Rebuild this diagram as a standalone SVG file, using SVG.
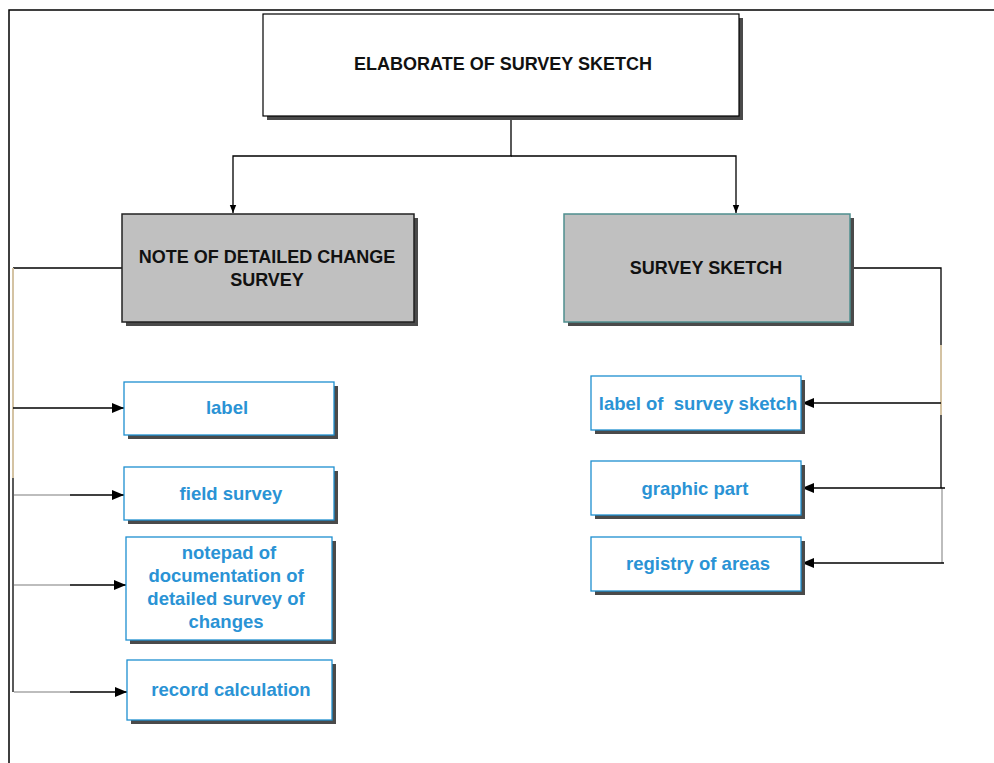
<svg xmlns="http://www.w3.org/2000/svg" width="994" height="763" viewBox="0 0 994 763">
<style>
.sh{fill:#4a4a4a}
.top{fill:#fff;stroke:#000;stroke-width:1.2}
.gray{fill:#c0c0c0;stroke:#222;stroke-width:1.5}
.grayt{fill:#c0c0c0;stroke:#4f8f8f;stroke-width:1.5}
.leaf{fill:#fff;stroke:#1e8fd0;stroke-width:1.3}
.tb{font-family:"Liberation Sans",Arial,sans-serif;font-weight:bold;font-size:18px;fill:#111;text-anchor:middle}
.tl{font-family:"Liberation Sans",Arial,sans-serif;font-weight:bold;font-size:18.5px;fill:#2a93d5;text-anchor:middle;white-space:pre}
.c{fill:none;stroke:#000;stroke-width:1.3}
.cg{fill:none;stroke:#bdbdbd;stroke-width:2}
.cb{fill:none;stroke:#d4c3a3;stroke-width:2}
</style>
<defs>
<marker id="ah" viewBox="0 0 12 10" refX="12" refY="5" markerWidth="12" markerHeight="10" markerUnits="userSpaceOnUse" orient="auto">
<path d="M0,0 L12,5 L0,10 z" fill="#000"/>
</marker>
<marker id="as" viewBox="0 0 10 10" refX="10" refY="5" markerWidth="8" markerHeight="8" markerUnits="userSpaceOnUse" orient="auto">
<path d="M0,1 L10,5 L0,9 z" fill="#000"/>
</marker>
</defs>
<rect width="994" height="763" fill="#fff"/>
<path d="M9,763 V10 H994" fill="none" stroke="#000" stroke-width="1.5"/>

<g id="connectors">
<path class="c" d="M511,117 V156 H233 V213" marker-end="url(#as)"/>
<path class="c" d="M511,156 H736 V213" marker-end="url(#as)"/>
<path class="c" d="M122,268 H13"/>
<path class="cb" d="M13,268 V478"/>
<path class="c" d="M13,478 V692"/>
<path class="c" d="M13,408 H124" marker-end="url(#ah)"/>
<path class="cg" d="M14,495 H70"/>
<path class="c" d="M70,495 H124" marker-end="url(#ah)"/>
<path class="cg" d="M14,585 H70"/>
<path class="c" d="M70,585 H126" marker-end="url(#ah)"/>
<path class="cg" d="M14,692 H70"/>
<path class="c" d="M70,692 H127" marker-end="url(#ah)"/>
<path class="c" d="M852,268 H941 V345"/>
<path class="cb" d="M941,345 V415"/>
<path class="c" d="M941,415 V488"/>
<path class="cg" d="M942,488 V563"/>
<path class="c" d="M941,403 H802" marker-end="url(#ah)"/>
<path class="c" d="M945,488 H802" marker-end="url(#ah)"/>
<path class="c" d="M944,563 H802" marker-end="url(#ah)"/>
</g>

<g id="n-root">
<rect class="sh" x="267" y="18" width="476" height="102"/>
<rect class="top" x="263" y="14" width="476" height="102"/>
<text class="tb" x="503" y="70">ELABORATE OF SURVEY SKETCH</text>
</g>

<g id="n-note">
<rect class="sh" x="126" y="218" width="292" height="108"/>
<rect class="gray" x="122" y="214" width="292" height="108"/>
<text class="tb" x="267" y="263">NOTE OF DETAILED CHANGE</text>
<text class="tb" x="267" y="286">SURVEY</text>
</g>

<g id="n-sketch">
<rect class="sh" x="568" y="218" width="286" height="108"/>
<rect class="grayt" x="564" y="214" width="286" height="108"/>
<text class="tb" x="706" y="274">SURVEY SKETCH</text>
</g>

<g id="n-label">
<rect class="sh" x="128" y="386" width="210" height="53"/>
<rect class="leaf" x="124" y="382" width="210" height="53"/>
<text class="tl" x="227" y="414">label</text>
</g>

<g id="n-field">
<rect class="sh" x="128" y="471" width="210" height="53"/>
<rect class="leaf" x="124" y="467" width="210" height="53"/>
<text class="tl" x="231" y="500">field survey</text>
</g>

<g id="n-notepad">
<rect class="sh" x="130" y="541" width="206" height="103"/>
<rect class="leaf" x="126" y="537" width="206" height="103"/>
<text class="tl" x="229" y="559">notepad of</text>
<text class="tl" x="226" y="582">documentation of</text>
<text class="tl" x="226" y="605">detailed survey of</text>
<text class="tl" x="226" y="628">changes</text>
</g>

<g id="n-record">
<rect class="sh" x="131" y="664" width="205" height="60"/>
<rect class="leaf" x="127" y="660" width="205" height="60"/>
<text class="tl" x="231" y="696">record calculation</text>
</g>

<g id="n-labelsk">
<rect class="sh" x="595" y="380" width="210" height="54"/>
<rect class="leaf" x="591" y="376" width="210" height="54"/>
<text class="tl" x="698" y="410" xml:space="preserve">label of  survey sketch</text>
</g>

<g id="n-graphic">
<rect class="sh" x="595" y="465" width="210" height="54"/>
<rect class="leaf" x="591" y="461" width="210" height="54"/>
<text class="tl" x="695" y="495">graphic part</text>
</g>

<g id="n-registry">
<rect class="sh" x="595" y="541" width="210" height="54"/>
<rect class="leaf" x="591" y="537" width="210" height="54"/>
<text class="tl" x="698" y="570">registry of areas</text>
</g>
</svg>
